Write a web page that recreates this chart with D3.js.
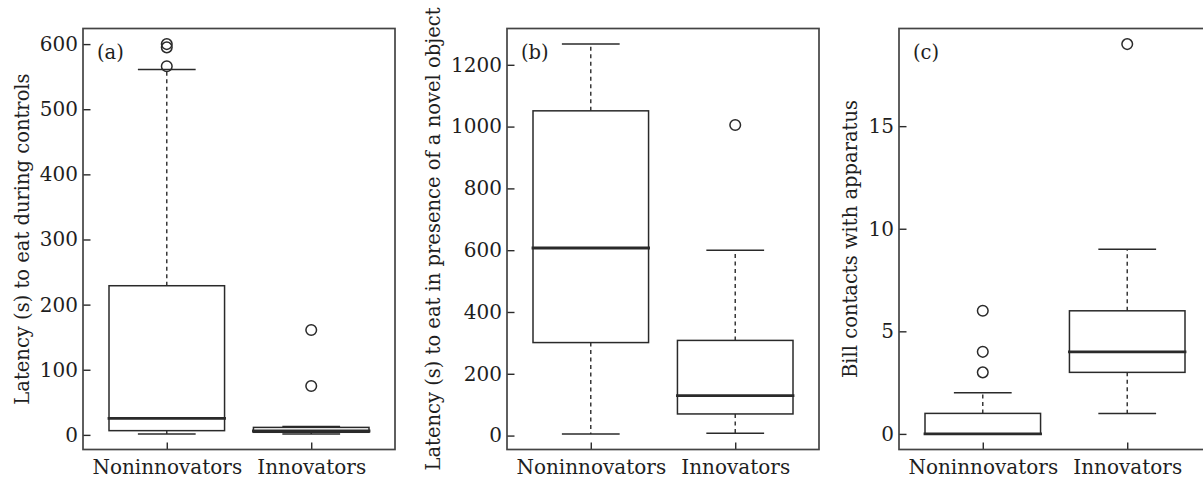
<!DOCTYPE html>
<html>
<head>
<meta charset="utf-8">
<script src="https://cdn.jsdelivr.net/npm/d3@7"></script>
<style>
  body { margin: 0; background: #fff; }
  svg text { font-family: "DejaVu Serif", serif; fill: #1e1e1e; }
</style>
</head>
<body>
<div id="svg"></div>
<script>
// group names on the x axis
const categories = ["Noninnovators", "Innovators"];

// panel (a): latency to eat during controls  [low, q1, median, q3, high]
const controlStats = [[1.5, 6.5, 25.5, 229, 561], [1.5, 4, 6, 11.5, 13]];
const controlOutliers = [[566, 595, 600], [75, 161]];
const controlTicks = [0, 100, 200, 300, 400, 500, 600];

// panel (b): latency to eat with a novel object
const novelStats = [[5.4, 301, 607, 1051, 1267], [7.5, 70, 129, 308, 600]];
const novelOutliers = [[], [1005]];
const novelTicks = [0, 200, 400, 600, 800, 1000, 1200];

// panel (c): bill contacts with apparatus
const billStats = [[0, 0, 0, 1, 2], [1, 3, 4, 6, 9]];
const billOutliers = [[3, 4, 6], [19]];
const billTicks = [0, 5, 10, 15];

const panelNames = ["(a)", "(b)", "(c)"];
const yTitles = [
    "Latency (s) to eat during controls",
    "Latency (s) to eat in presence of a novel object",
    "Bill contacts with apparatus"
];

const width = 1203;
const height = 479;
const plotW = 312;
const plotTop = 28.5;
const plotBottom = 449.5;
const panelLeft = [83, 507, 899];
const lineCol = "#2a2a2a";

const panels = [
    {stats: controlStats, outliers: controlOutliers, ticks: controlTicks},
    {stats: novelStats, outliers: novelOutliers, ticks: novelTicks},
    {stats: billStats, outliers: billOutliers, ticks: billTicks}
];

let svg = d3.select('#svg')
    .append('svg')
        .attr('width', width)
        .attr('height', height);

panels.forEach((p, i) => {
    const left = panelLeft[i];

    // like R: positions 1..n, xlim 0.5..n+0.5 padded by 4%
    const xScale = d3.scalePoint()
        .domain(categories)
        .range([left, left + plotW])
        .padding(0.58);
    const boxW = xScale.step() * 0.8;

    const all = p.stats.flat().concat(p.outliers.flat());
    const lo = d3.min(all), hi = d3.max(all);
    const pad = (hi - lo) * 0.04;
    const yScale = d3.scaleLinear()
        .domain([lo - pad, hi + pad])
        .range([plotBottom, plotTop]);

    let g = svg.append('g');

    // boxes
    p.stats.forEach((s, j) => {
        const cx = xScale(categories[j]);
        const [wLo, q1, med, q3, wHi] = s;
        // whiskers
        g.append('line')
            .attr('x1', cx).attr('x2', cx)
            .attr('y1', yScale(q3)).attr('y2', yScale(wHi))
            .attr('stroke', lineCol).attr('stroke-width', 1.4)
            .attr('stroke-dasharray', '4,3.5');
        g.append('line')
            .attr('x1', cx).attr('x2', cx)
            .attr('y1', yScale(q1)).attr('y2', yScale(wLo))
            .attr('stroke', lineCol).attr('stroke-width', 1.4)
            .attr('stroke-dasharray', '4,3.5');
        // staples
        [wLo, wHi].forEach(v => {
            g.append('line')
                .attr('x1', cx - boxW / 4).attr('x2', cx + boxW / 4)
                .attr('y1', yScale(v)).attr('y2', yScale(v))
                .attr('stroke', lineCol).attr('stroke-width', 1.5);
        });
        g.append('rect')
            .attr('x', cx - boxW / 2)
            .attr('y', yScale(q3))
            .attr('width', boxW)
            .attr('height', yScale(q1) - yScale(q3))
            .attr('fill', '#fff')
            .attr('stroke', lineCol).attr('stroke-width', 1.5);
        g.append('line')
            .attr('x1', cx - boxW / 2).attr('x2', cx + boxW / 2)
            .attr('y1', yScale(med)).attr('y2', yScale(med))
            .attr('stroke', lineCol).attr('stroke-width', 2.8)
            .attr('stroke-linecap', 'square');
    });

    // outliers
    p.outliers.forEach((pts, j) => {
        g.selectAll(null)
            .data(pts)
            .enter()
            .append('circle')
                .attr('cx', xScale(categories[j]))
                .attr('cy', (d) => yScale(d))
                .attr('r', 5.3)
                .attr('fill', 'none')
                .attr('stroke', lineCol)
                .attr('stroke-width', 1.5);
    });

    // y axis, ticks pointing inward
    const yAxis = g.append('g')
        .attr('transform', `translate(${left}, 0)`)
        .call(d3.axisRight(yScale).tickValues(p.ticks).tickSize(7.5).tickFormat(d3.format('d')));
    yAxis.select('.domain').remove();
    yAxis.selectAll('line').attr('stroke', lineCol).attr('stroke-width', 1.4);
    yAxis.selectAll('text')
        .attr('x', -5)
        .attr('text-anchor', 'end')
        .style('font-size', '20px')
        .style('font-family', '"DejaVu Serif", serif')
        .attr('fill', '#1e1e1e');

    // x axis, ticks pointing inward
    const xAxis = g.append('g')
        .attr('transform', `translate(0, ${plotBottom})`)
        .call(d3.axisTop(xScale).tickSize(7).tickPadding(0));
    xAxis.select('.domain').remove();
    xAxis.selectAll('line').attr('stroke', lineCol).attr('stroke-width', 1.4);
    xAxis.selectAll('text')
        .attr('y', 24.5)
        .attr('dy', null)
        .style('font-size', '20px')
        .style('font-family', '"DejaVu Serif", serif')
        .attr('fill', '#1e1e1e');

    // frame
    g.append('rect')
        .attr('x', left).attr('y', plotTop)
        .attr('width', plotW).attr('height', plotBottom - plotTop)
        .attr('fill', 'none')
        .attr('stroke', '#444').attr('stroke-width', 1.7);

    // panel letter
    g.append('text')
        .attr('x', left + 14)
        .attr('y', 59)
        .style('font-size', '19.5px')
        .text(panelNames[i]);

    // y title
    const titleX = [22, 433, 850][i];
    g.append('text')
        .attr('transform', `translate(${titleX}, ${(plotTop + plotBottom) / 2}) rotate(-90)`)
        .attr('text-anchor', 'middle')
        .attr('dy', '0.35em')
        .style('font-size', '19.5px')
        .text(yTitles[i]);
});
</script>
</body>
</html>
